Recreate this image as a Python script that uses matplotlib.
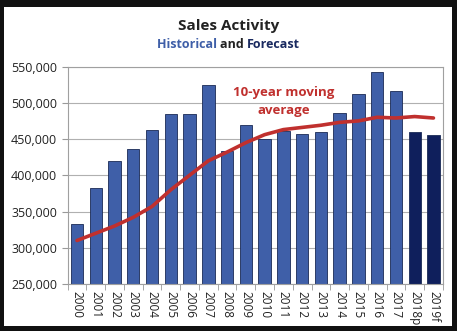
import matplotlib.pyplot as plt
from matplotlib.patches import Rectangle
from matplotlib.ticker import FuncFormatter, FixedLocator

years = ['2000', '2001', '2002', '2003', '2004', '2005', '2006', '2007', '2008', '2009',
         '2010', '2011', '2012', '2013', '2014', '2015', '2016', '2017', '2018p', '2019f']
sales = [333000, 382000, 420000, 436000, 463000, 485000, 485000, 524000, 434000, 469000,
         450000, 461000, 457000, 460000, 486000, 512000, 542000, 516000, 459000, 456000]
moving_avg = [310000, 320000, 330000, 342000, 357000, 380000, 400000, 420000, 432000, 445000,
              456000, 463000, 466000, 469000, 473000, 475000, 480000, 479000, 481000, 479000]
forecast = [False] * 18 + [True, True]

plt.rcParams['font.family'] = ['Open Sans', 'DejaVu Sans']

fig = plt.figure(figsize=(4.57, 3.31), dpi=100, facecolor='#111111')
# white panel inside the dark frame
fig.patches.append(Rectangle((4 / 457, 1 - 326 / 331), 448 / 457, 319 / 331,
                             transform=fig.transFigure, facecolor='white', edgecolor='none', zorder=-10))

ax = fig.add_axes([0.148, 0.142, 0.821, 0.657])
ax.set_facecolor('white')

x = list(range(len(years)))
colors = ['#0f1f5c' if f else '#3f5fa8' for f in forecast]
ax.bar(x, sales, width=0.66, color=colors, edgecolor='#1a2a55', linewidth=0.6, zorder=2)
ax.plot(x, moving_avg, color='#c0302e', linewidth=2.6, zorder=3, solid_capstyle='round')

ax.set_ylim(250000, 550000)
ax.set_xlim(-0.5, len(years) - 0.5)
ax.set_yticks(range(250000, 550001, 50000))
ax.yaxis.set_major_formatter(FuncFormatter(lambda v, p: f'{int(v):,}'))
ax.grid(axis='y', color='#b0b0b0', linewidth=0.8, zorder=0)
ax.set_axisbelow(True)

ax.set_xticks(x)
ax.set_xticklabels(years, rotation=270, fontsize=8.5, color='#222222')
ax.tick_params(axis='x', length=0, pad=5)
ax.xaxis.set_minor_locator(FixedLocator([i - 0.5 for i in range(len(years) + 1)]))
ax.tick_params(axis='x', which='minor', length=4, color='#999999')
ax.tick_params(axis='y', labelsize=9, colors='#222222', length=4, color='#999999')
for s in ax.spines.values():
    s.set_color('#a0a0a0')
    s.set_linewidth(0.8)

ax.text(11.0, 502000, '10-year moving\naverage', color='#c0302e', fontsize=9.5,
        fontweight='bold', ha='center', va='center', linespacing=1.45)

fig.text(0.5, 1 - 26 / 331, 'Sales Activity', ha='center', va='center', fontsize=11,
         fontweight='bold', color='#222222')
t1 = fig.text(0.5, 1 - 45 / 331, 'Historical and Forecast', ha='center', va='center',
              fontsize=9, fontweight='bold', alpha=0)
fig.canvas.draw()
bb = t1.get_window_extent()
x0 = bb.x0
for word, col in [('Historical ', '#3f5fa8'), ('and ', '#222222'), ('Forecast', '#1a2a60')]:
    t = fig.text(x0 / fig.bbox.width, 1 - 45 / 331, word, ha='left', va='center',
                 fontsize=9, fontweight='bold', color=col)
    fig.canvas.draw()
    x0 = t.get_window_extent().x1

fig.savefig('out.png', dpi=100, facecolor=fig.get_facecolor())
